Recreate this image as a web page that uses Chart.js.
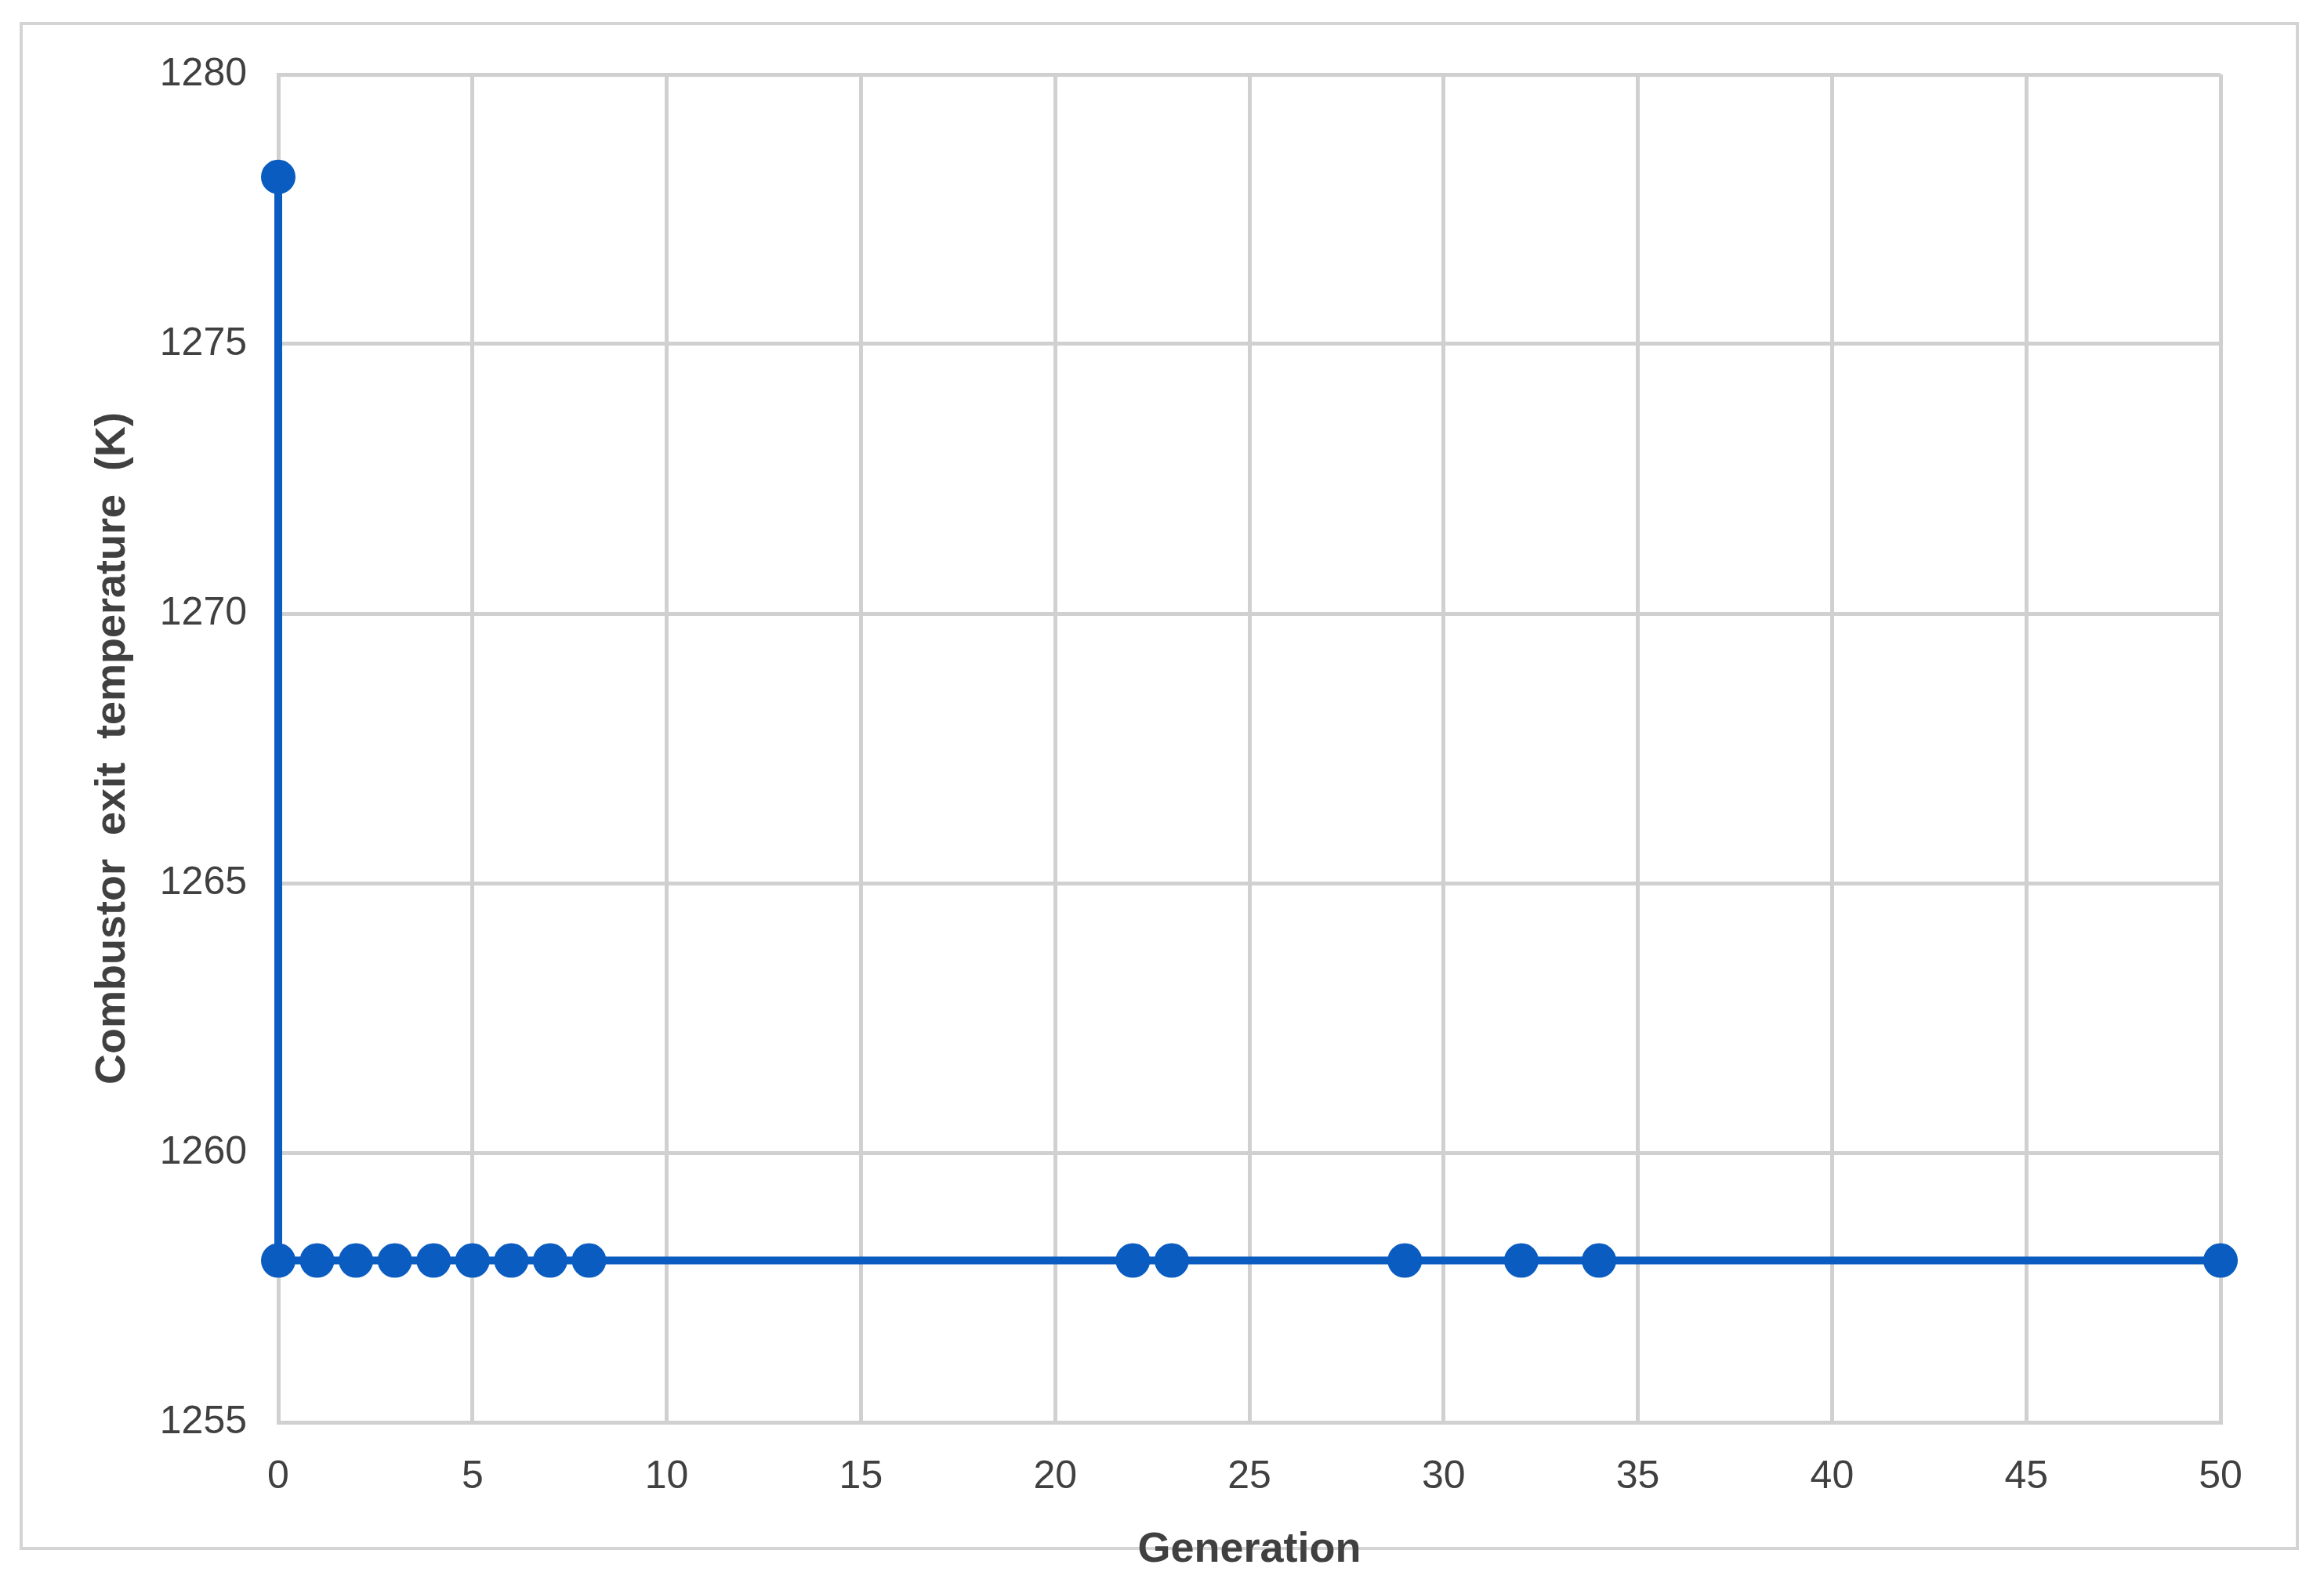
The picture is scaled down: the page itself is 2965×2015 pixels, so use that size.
<!DOCTYPE html>
<html>
<head>
<meta charset="utf-8">
<script src="https://cdn.jsdelivr.net/npm/chart.js@4/dist/chart.umd.min.js"></script>
<style>
  html, body { margin: 0; padding: 0; background: #fff; }
  #wrap { position: relative; width: 2965px; height: 2015px; }
  #frame { position: absolute; left: 25px; top: 28px; width: 2908px; height: 1950px; border: 4px solid #d4d4d4; box-sizing: border-box; }
  canvas { position: absolute; left: 0; top: 0; }
</style>
</head>
<body>
<div id="wrap">
  <div id="frame"></div>
  <canvas id="chart" width="2965" height="2015"></canvas>
</div>
<script>
// generations where a point was recorded, and the best exit temperature there
const generations = [0, 0, 1, 2, 3, 4, 5, 6, 7, 8, 22, 23, 29, 32, 34, 50];
const temperatures = [1278.1, 1258, 1258, 1258, 1258, 1258, 1258, 1258, 1258, 1258, 1258, 1258, 1258, 1258, 1258, 1258];
const xTicks = [0, 5, 10, 15, 20, 25, 30, 35, 40, 45, 50];
const yTicks = [1255, 1260, 1265, 1270, 1275, 1280];

const blue = "#0b5cc0";
const grid = "#d0d0d0";
const tickFont = { family: "Liberation Sans", size: 50 };

new Chart(document.getElementById("chart").getContext("2d"), {
  type: "line",
  data: {
    datasets: [{
      data: generations.map((g, i) => ({ x: g, y: temperatures[i] })),
      borderColor: blue,
      backgroundColor: blue,
      borderWidth: 10,
      pointRadius: 17,
      pointHoverRadius: 17,
      tension: 0,
      clip: false
    }]
  },
  options: {
    responsive: false,
    animation: false,
    layout: { padding: { top: 95, right: 132, left: 108, bottom: 0 } },
    plugins: { legend: { display: false }, tooltip: { enabled: false } },
    scales: {
      x: {
        type: "linear",
        min: 0, max: 50,
        afterBuildTicks: s => { s.ticks = xTicks.map(v => ({ value: v })); },
        afterFit: s => { s.height = 200; },
        grid: { color: grid, lineWidth: 5, drawTicks: false },
        border: { color: grid, width: 5 },
        ticks: { color: "#404040", font: tickFont, padding: 40, callback: v => String(v) },
        title: { display: true, text: "Generation", color: "#404040", font: { family: "Liberation Sans", size: 54, weight: "bold" }, padding: { top: 20 } }
      },
      y: {
        min: 1255, max: 1280,
        afterBuildTicks: s => { s.ticks = yTicks.map(v => ({ value: v })); },
        afterFit: s => { s.width = 247; },
        grid: { color: grid, lineWidth: 5, drawTicks: false },
        border: { color: grid, width: 5 },
        ticks: { color: "#404040", font: tickFont, padding: 40, callback: v => String(v) },
        title: { display: true, text: "Combustor  exit  temperature  (K)", color: "#404040", font: { family: "Liberation Sans", size: 54, weight: "bold" }, padding: { bottom: 0 } }
      }
    }
  }
});
</script>
</body>
</html>
